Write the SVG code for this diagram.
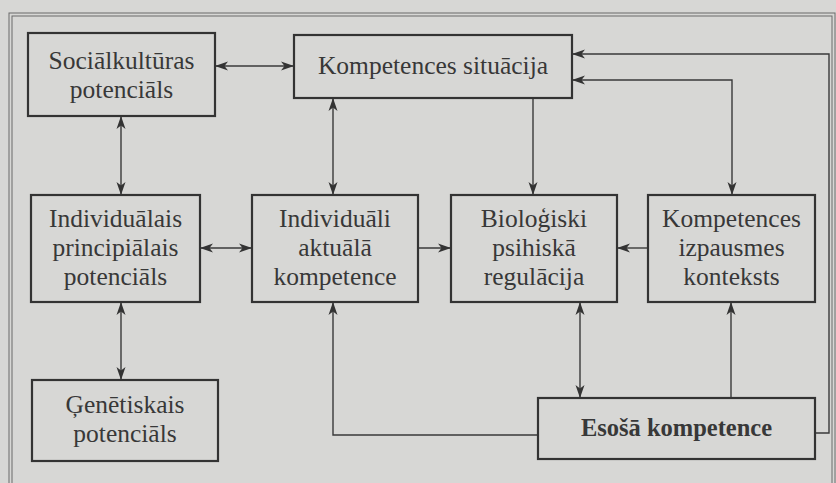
<svg xmlns="http://www.w3.org/2000/svg" width="836" height="483" viewBox="0 0 836 483">
<style>
.bg{fill:#d7d7d5}
.frame{fill:none;stroke:#6a6a6a;stroke-width:1}
.box{fill:none;stroke:#333;stroke-width:2.2}
text{font-family:"Liberation Serif","Tinos","DejaVu Serif",serif;font-size:25.5px;fill:#383838;text-anchor:middle}
.b{font-weight:bold;font-size:24.5px}
.c{fill:none;stroke:#3a3a3a;stroke-width:1.4}
</style>
<defs>
<marker id="ah" markerUnits="userSpaceOnUse" markerWidth="14" markerHeight="10" refX="13" refY="5" orient="auto-start-reverse" viewBox="0 0 14 10">
<path d="M0,0.5 L13,5 L0,9.5 L3.5,5 z" fill="#333"/>
</marker>
</defs>
<rect class="bg" x="0" y="0" width="836" height="483"/>
<rect class="frame" x="9" y="13" width="826" height="480"/>
<rect class="frame" x="12" y="16" width="820" height="480"/>

<g id="connectors">
<path class="c" d="M215,66 H294" marker-start="url(#ah)" marker-end="url(#ah)"/>
<path class="c" d="M121,116 V195" marker-start="url(#ah)" marker-end="url(#ah)"/>
<path class="c" d="M333,98 V195" marker-start="url(#ah)" marker-end="url(#ah)"/>
<path class="c" d="M533,98 V195" marker-end="url(#ah)"/>
<path class="c" d="M732,195 V80 H572" marker-start="url(#ah)" marker-end="url(#ah)"/>
<path class="c" d="M815,433 H829 V54 H572" marker-end="url(#ah)"/>
<path class="c" d="M200,248 H252" marker-start="url(#ah)" marker-end="url(#ah)"/>
<path class="c" d="M418,248 H451" marker-end="url(#ah)"/>
<path class="c" d="M648,248 H617" marker-end="url(#ah)"/>
<path class="c" d="M121,302 V380" marker-start="url(#ah)" marker-end="url(#ah)"/>
<path class="c" d="M538,435 H333 V302" marker-end="url(#ah)"/>
<path class="c" d="M580,302 V398" marker-start="url(#ah)" marker-end="url(#ah)"/>
<path class="c" d="M731,398 V302" marker-end="url(#ah)"/>
</g>

<g id="n-sociala">
<rect class="box" x="28" y="33" width="187" height="83"/>
<text x="121.5" y="69">Sociālkultūras</text>
<text x="121.5" y="98">potenciāls</text>
</g>
<g id="n-situacija">
<rect class="box" x="294" y="35" width="278" height="63"/>
<text x="433" y="74">Kompetences situācija</text>
</g>
<g id="n-principialais">
<rect class="box" x="31" y="195" width="169" height="107"/>
<text x="115.5" y="227">Individuālais</text>
<text x="115.5" y="256">principiālais</text>
<text x="115.5" y="285">potenciāls</text>
</g>
<g id="n-aktuala">
<rect class="box" x="252" y="195" width="166" height="107"/>
<text x="335" y="227">Individuāli</text>
<text x="335" y="256">aktuālā</text>
<text x="335" y="285">kompetence</text>
</g>
<g id="n-biologiski">
<rect class="box" x="451" y="195" width="166" height="107"/>
<text x="534" y="227">Bioloģiski</text>
<text x="534" y="256">psihiskā</text>
<text x="534" y="285">regulācija</text>
</g>
<g id="n-konteksts">
<rect class="box" x="648" y="195" width="167" height="107"/>
<text x="731.5" y="227">Kompetences</text>
<text x="731.5" y="256">izpausmes</text>
<text x="731.5" y="285">konteksts</text>
</g>
<g id="n-genetiskais">
<rect class="box" x="32" y="380" width="186" height="81"/>
<text x="125" y="413">Ģenētiskais</text>
<text x="125" y="442">potenciāls</text>
</g>
<g id="n-esosa">
<rect class="box" x="538" y="398" width="277" height="61"/>
<text class="b" x="676.5" y="436">Esošā kompetence</text>
</g>
</svg>
